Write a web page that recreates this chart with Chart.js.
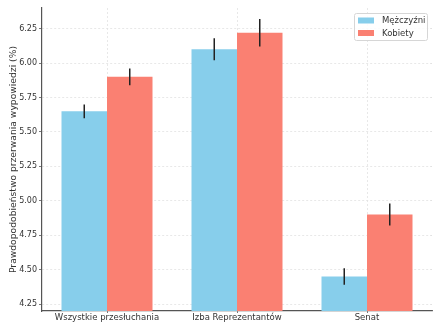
<!DOCTYPE html>
<html>
<head>
<meta charset="utf-8">
<script src="https://cdn.jsdelivr.net/npm/chart.js@4"></script>
<style>
  html, body { margin: 0; padding: 0; background: #fff; }
  #wrap { width: 440px; height: 330px; }
</style>
</head>
<body>
<div id="wrap"><canvas id="c" width="440" height="330"></canvas></div>
<script>
const categories = ['Wszystkie przesłuchania', 'Izba Reprezentantów', 'Senat'];
const menValues = [5.65, 6.10, 4.45];
const menErrors = [0.05, 0.08, 0.06];
const womenValues = [5.90, 6.22, 4.90];
const womenErrors = [0.06, 0.10, 0.08];
const yTicks = [4.25, 4.50, 4.75, 5.00, 5.25, 5.50, 5.75, 6.00, 6.25];

const FONT = 'DejaVu Sans';

// Vertical error bars drawn from each dataset's errors array
const errorBars = {
  id: 'errorBars',
  afterDatasetsDraw(chart) {
    const ctx = chart.ctx;
    const y = chart.scales.y;
    chart.data.datasets.forEach((ds, i) => {
      const meta = chart.getDatasetMeta(i);
      meta.data.forEach((bar, j) => {
        const v = ds.data[j], e = ds.errors[j];
        ctx.save();
        ctx.strokeStyle = '#222';
        ctx.lineWidth = 1.5;
        ctx.beginPath();
        ctx.moveTo(bar.x, y.getPixelForValue(v - e));
        ctx.lineTo(bar.x, y.getPixelForValue(v + e));
        ctx.stroke();
        ctx.restore();
      });
    });
  }
};

// Boxed legend in the upper right of the plot area
const boxLegend = {
  id: 'boxLegend',
  afterDraw(chart) {
    const ctx = chart.ctx;
    const area = chart.chartArea;
    const w = 73, h = 27;
    const x0 = area.right - w - 5, y0 = area.top + 5;
    ctx.save();
    ctx.fillStyle = 'rgba(255,255,255,0.85)';
    ctx.strokeStyle = '#d6d6d6';
    ctx.lineWidth = 1;
    ctx.beginPath();
    ctx.roundRect(x0 + 0.5, y0 + 0.5, w, h, 2);
    ctx.fill();
    ctx.stroke();
    ctx.font = '8.5px "' + FONT + '"';
    ctx.textBaseline = 'middle';
    chart.data.datasets.forEach((ds, i) => {
      const cy = y0 + 7.5 + i * 12.5;
      ctx.fillStyle = ds.backgroundColor;
      ctx.fillRect(x0 + 4, cy - 3, 16, 6);
      ctx.fillStyle = '#333';
      ctx.fillText(ds.label, x0 + 28, cy + 0.5);
    });
    ctx.restore();
  }
};

new Chart(document.getElementById('c'), {
  type: 'bar',
  data: {
    labels: categories,
    datasets: [
      { label: 'Mężczyźni', data: menValues, errors: menErrors, backgroundColor: '#87CEEB' },
      { label: 'Kobiety', data: womenValues, errors: womenErrors, backgroundColor: '#FA8072' }
    ]
  },
  options: {
    responsive: false,
    animation: false,
    layout: { padding: { top: 8, right: 8, left: 0, bottom: 0 } },
    plugins: {
      legend: { display: false },
      tooltip: { enabled: false }
    },
    datasets: {
      bar: { categoryPercentage: 0.7, barPercentage: 1.0 }
    },
    scales: {
      x: {
        grid: { offset: false, color: '#e2e2e2', lineWidth: 0.8, drawTicks: true, tickLength: 2, tickColor: '#555' },
        border: { color: '#555', width: 1.2, dash: [2, 2] },
        ticks: { color: '#333', font: { family: FONT, size: 8.5 }, padding: 0, maxRotation: 0 },
        afterFit(s) { s.height = 19; }
      },
      y: {
        min: 4.2,
        max: 6.4,
        afterBuildTicks(s) { s.ticks = yTicks.map(v => ({ value: v })); },
        grid: { color: '#e2e2e2', lineWidth: 0.8, tickLength: 3, tickColor: '#555' },
        border: { color: '#555', width: 1.2, dash: [2, 2] },
        ticks: {
          color: '#333',
          font: { family: FONT, size: 8 },
          padding: 2,
          callback: v => Number(v).toFixed(2)
        },
        title: {
          display: true,
          text: 'Prawdopodobieństwo przerwania wypowiedzi (%)',
          color: '#333',
          font: { family: FONT, size: 9.2 },
          padding: { top: 8, bottom: 2 }
        },
        afterFit(s) { s.width = 42; }
      }
    }
  },
  plugins: [errorBars, boxLegend]
});
</script>
</body>
</html>
